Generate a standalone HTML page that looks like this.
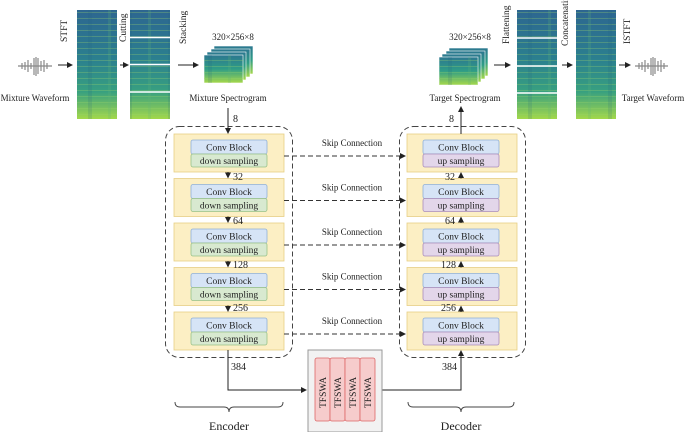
<!DOCTYPE html>
<html><head><meta charset="utf-8"><style>
html,body{margin:0;padding:0;background:#fff}
svg{display:block}
text{font-family:"Liberation Serif",serif;fill:#222}
</style></head><body>
<svg width="685" height="432" viewBox="0 0 685 432" xmlns="http://www.w3.org/2000/svg">
<defs>
<linearGradient id="sg" x1="0" y1="0" x2="0" y2="1">
<stop offset="0" stop-color="#2d6690"/><stop offset="0.45" stop-color="#2b7f8f"/><stop offset="0.75" stop-color="#38a080"/><stop offset="1" stop-color="#a3d84a"/>
</linearGradient>
<linearGradient id="sg2" x1="0" y1="0" x2="0" y2="1">
<stop offset="0" stop-color="#2c7790"/><stop offset="0.5" stop-color="#2f9d86"/><stop offset="1" stop-color="#a6d84a"/>
</linearGradient>
<pattern id="hl" width="40" height="6" patternUnits="userSpaceOnUse">
<rect x="0" y="0" width="40" height="1" fill="#9ed46a" opacity="0.3"/>
<rect x="8" y="0" width="4" height="6" fill="#1f5f80" opacity="0.15"/>
<rect x="28" y="0" width="3" height="6" fill="#5fb27a" opacity="0.2"/>
</pattern>
<marker id="ar" markerWidth="6" markerHeight="6" refX="5" refY="3" orient="auto" markerUnits="userSpaceOnUse"><path d="M0,0 L6,3 L0,6 z" fill="#222"/></marker>
</defs>

<g stroke="#888" stroke-width="1.2">
<line x1="18" y1="66" x2="52" y2="66"/>
<line x1="22" y1="63" x2="22" y2="69"/><line x1="25" y1="62" x2="25" y2="70"/><line x1="28" y1="60" x2="28" y2="72"/>
<line x1="31" y1="63" x2="31" y2="69"/><line x1="34" y1="58" x2="34" y2="75"/><line x1="36" y1="57" x2="36" y2="76"/><line x1="38" y1="58" x2="38" y2="74"/>
<line x1="41" y1="61" x2="41" y2="71"/><line x1="44" y1="60" x2="44" y2="72"/><line x1="47" y1="63" x2="47" y2="69"/>
</g>
<line x1="58" y1="65" x2="72" y2="65" stroke="#222" marker-end="url(#ar)"/>
<text x="35" y="101" font-size="9" text-anchor="middle">Mixture Waveform</text>
<text transform="translate(67,42) rotate(-90)" font-size="9.5">STFT</text>

<rect x="77" y="10" width="40" height="109" fill="url(#sg)"/><rect x="77" y="10" width="40" height="109" fill="url(#hl)"/>
<line x1="120" y1="65" x2="128" y2="65" stroke="#222" marker-end="url(#ar)"/>
<text transform="translate(126,42) rotate(-90)" font-size="9.5">Cutting</text>
<rect x="130" y="10" width="40" height="109" fill="url(#sg)"/><rect x="130" y="10" width="40" height="109" fill="url(#hl)"/>
<g stroke="#fff" stroke-width="1.5"><line x1="130" y1="37.5" x2="170" y2="37.5"/><line x1="130" y1="64.5" x2="170" y2="64.5"/><line x1="130" y1="92" x2="170" y2="92"/></g>
<text transform="translate(186,44) rotate(-90)" font-size="9.5">Stacking</text>
<line x1="178" y1="65" x2="198" y2="65" stroke="#222" marker-end="url(#ar)"/>
<text x="233" y="40" font-size="9" text-anchor="middle">320×256×8</text>
<g>
<rect x="214" y="46" width="39" height="28" fill="url(#sg2)" stroke="#fff" stroke-width="0.6"/>
<rect x="211" y="49" width="39" height="28" fill="url(#sg2)" stroke="#fff" stroke-width="0.6"/>
<rect x="207" y="52" width="39" height="28" fill="url(#sg2)" stroke="#fff" stroke-width="0.6"/>
<rect x="204" y="55" width="39" height="28" fill="url(#sg2)" stroke="#fff" stroke-width="0.6"/>
<rect x="204" y="55" width="39" height="28" fill="url(#hl)"/>
</g>
<text x="228" y="101" font-size="9" text-anchor="middle">Mixture Spectrogram</text>

<text x="470" y="40" font-size="9" text-anchor="middle">320×256×8</text>
<g>
<rect x="449" y="48" width="39" height="28" fill="url(#sg2)" stroke="#fff" stroke-width="0.6"/>
<rect x="446" y="51" width="39" height="28" fill="url(#sg2)" stroke="#fff" stroke-width="0.6"/>
<rect x="442" y="54" width="39" height="28" fill="url(#sg2)" stroke="#fff" stroke-width="0.6"/>
<rect x="439" y="57" width="39" height="28" fill="url(#sg2)" stroke="#fff" stroke-width="0.6"/>
<rect x="439" y="57" width="39" height="28" fill="url(#hl)"/>
</g>
<text x="465" y="101" font-size="9" text-anchor="middle">Target Spectrogram</text>
<line x1="494" y1="65" x2="510" y2="65" stroke="#222" marker-end="url(#ar)"/>
<text transform="translate(509,44) rotate(-90)" font-size="9.5">Flattening</text>
<rect x="517" y="10" width="40" height="109" fill="url(#sg)"/><rect x="517" y="10" width="40" height="109" fill="url(#hl)"/>
<g stroke="#fff" stroke-width="1.5"><line x1="517" y1="38" x2="557" y2="38"/><line x1="517" y1="66" x2="557" y2="66"/><line x1="517" y1="93" x2="557" y2="93"/></g>
<text transform="translate(568,46) rotate(-90)" font-size="9.5">Concatenating</text>
<line x1="562" y1="65" x2="572" y2="65" stroke="#222" marker-end="url(#ar)"/>
<rect x="576" y="10" width="40" height="109" fill="url(#sg)"/><rect x="576" y="10" width="40" height="109" fill="url(#hl)"/>
<text transform="translate(630,44) rotate(-90)" font-size="9.5">ISTFT</text>
<line x1="619" y1="65" x2="630" y2="65" stroke="#222" marker-end="url(#ar)"/>
<g stroke="#888" stroke-width="1.2">
<line x1="635" y1="66" x2="668" y2="66"/>
<line x1="639" y1="63" x2="639" y2="69"/><line x1="642" y1="62" x2="642" y2="70"/><line x1="645" y1="60" x2="645" y2="72"/>
<line x1="648" y1="63" x2="648" y2="69"/><line x1="651" y1="58" x2="651" y2="75"/><line x1="653" y1="57" x2="653" y2="76"/><line x1="655" y1="58" x2="655" y2="74"/>
<line x1="658" y1="61" x2="658" y2="71"/><line x1="661" y1="60" x2="661" y2="72"/><line x1="664" y1="63" x2="664" y2="69"/>
</g>
<text x="653" y="101" font-size="9" text-anchor="middle">Target Waveform</text>

<rect x="165.5" y="126.5" width="127" height="231" rx="14" fill="none" stroke="#444" stroke-dasharray="5,3"/>
<rect x="399.5" y="126.5" width="126" height="231" rx="14" fill="none" stroke="#444" stroke-dasharray="5,3"/>

<g font-size="9.5">
<g id="e1">
<rect x="174" y="134" width="110" height="38" fill="#fcefc4" stroke="#e7cf85" stroke-width="0.8"/>
<rect x="191" y="140" width="76" height="14" rx="2" fill="#d6e4f6" stroke="#8fb0d8" stroke-width="0.8"/>
<rect x="191" y="154" width="76" height="13" rx="2" fill="#d8e9d0" stroke="#98c287" stroke-width="0.8"/>
<text x="229" y="150.5" text-anchor="middle">Conv Block</text>
<text x="229" y="164" text-anchor="middle">down sampling</text>
</g>
<use href="#e1" y="44.5"/><use href="#e1" y="89"/><use href="#e1" y="133.5"/><use href="#e1" y="178"/>
<g id="d1">
<rect x="407" y="134" width="110" height="38" fill="#fcefc4" stroke="#e7cf85" stroke-width="0.8"/>
<rect x="423" y="140" width="76" height="14" rx="2" fill="#d6e4f6" stroke="#8fb0d8" stroke-width="0.8"/>
<rect x="423" y="154" width="76" height="13" rx="2" fill="#e3d6ea" stroke="#a98dbb" stroke-width="0.8"/>
<text x="461" y="150.5" text-anchor="middle">Conv Block</text>
<text x="461" y="164" text-anchor="middle">up sampling</text>
</g>
<use href="#d1" y="44.5"/><use href="#d1" y="89"/><use href="#d1" y="133.5"/><use href="#d1" y="178"/>
<g id="sk">
<text x="352" y="146" text-anchor="middle" font-size="9">Skip Connection</text>
<line x1="284" y1="156" x2="405" y2="156" stroke="#333" stroke-dasharray="5,3" marker-end="url(#ar)"/>
</g>
<use href="#sk" y="44.5"/><use href="#sk" y="89"/><use href="#sk" y="133.5"/><use href="#sk" y="178"/>
</g>

<g stroke="#222">
<line x1="228" y1="108" x2="228" y2="133" marker-end="url(#ar)"/>
<line x1="228" y1="172" x2="228" y2="177.5" marker-end="url(#ar)"/>
<line x1="228" y1="216.5" x2="228" y2="222" marker-end="url(#ar)"/>
<line x1="228" y1="261" x2="228" y2="266.5" marker-end="url(#ar)"/>
<line x1="228" y1="305.5" x2="228" y2="311" marker-end="url(#ar)"/>
<polyline points="228,350 228,390 306,390" fill="none" marker-end="url(#ar)"/>
<line x1="461" y1="134" x2="461" y2="107" marker-end="url(#ar)"/>
<line x1="461" y1="178.5" x2="461" y2="173" marker-end="url(#ar)"/>
<line x1="461" y1="223" x2="461" y2="217.5" marker-end="url(#ar)"/>
<line x1="461" y1="267.5" x2="461" y2="262" marker-end="url(#ar)"/>
<line x1="461" y1="312" x2="461" y2="306.5" marker-end="url(#ar)"/>
<polyline points="382,390 461,390 461,351" fill="none" marker-end="url(#ar)"/>
</g>
<g font-size="10">
<text x="233" y="122">8</text><text x="233" y="180">32</text><text x="233" y="224">64</text><text x="233" y="268">128</text><text x="233" y="311">256</text>
<text x="231" y="370">384</text>
<text x="449" y="122">8</text><text x="445" y="180">32</text><text x="445" y="224">64</text><text x="441" y="268">128</text><text x="441" y="311">256</text>
<text x="442" y="370">384</text>
</g>

<rect x="308" y="350" width="74" height="82" fill="#f2f2f2" stroke="#999"/>
<g font-size="9.5">
<rect x="315" y="358" width="15" height="63" rx="2" fill="#f6cccc" stroke="#d66" stroke-width="0.8"/>
<rect x="330" y="358" width="15" height="63" rx="2" fill="#f6cccc" stroke="#d66" stroke-width="0.8"/>
<rect x="345" y="358" width="15" height="63" rx="2" fill="#f6cccc" stroke="#d66" stroke-width="0.8"/>
<rect x="360" y="358" width="15" height="63" rx="2" fill="#f6cccc" stroke="#d66" stroke-width="0.8"/>
<text transform="translate(326,408) rotate(-90)">TFSWA</text>
<text transform="translate(341,408) rotate(-90)">TFSWA</text>
<text transform="translate(356,408) rotate(-90)">TFSWA</text>
<text transform="translate(371,408) rotate(-90)">TFSWA</text>
</g>

<g fill="none" stroke="#444" stroke-width="0.9">
<path d="M175,402 q0,5 5,5 h44 q5,0 5,5 q0,-5 5,-5 h44 q5,0 5,-5"/>
<path d="M408,402 q0,5 5,5 h43 q5,0 5,5 q0,-5 5,-5 h43 q5,0 5,-5"/>
</g>
<text x="229" y="430" font-size="12" text-anchor="middle">Encoder</text>
<text x="461" y="430" font-size="12" text-anchor="middle">Decoder</text>
</svg>
</body></html>
